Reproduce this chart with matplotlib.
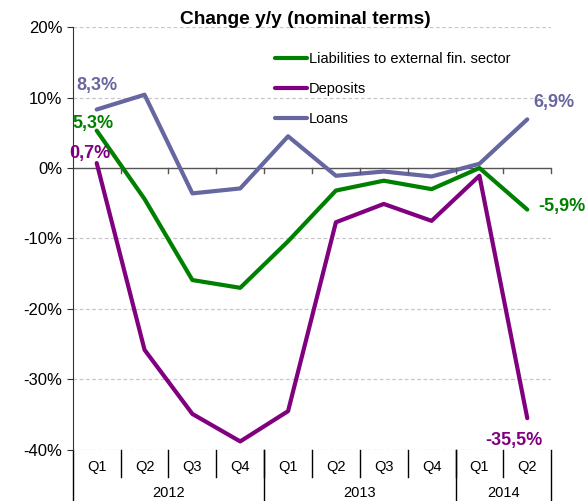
import numpy as np
import matplotlib
matplotlib.use("Agg")
import matplotlib.pyplot as plt
from matplotlib.ticker import FuncFormatter

plt.rcParams['font.family'] = ['Liberation Sans', 'DejaVu Sans']

quarters = ['Q1', 'Q2', 'Q3', 'Q4', 'Q1', 'Q2', 'Q3', 'Q4', 'Q1', 'Q2']
years = ['2012', '2013', '2014']
year_len = [4, 4, 2]

liabilities = [5.3, -4.4, -15.9, -17.0, -10.4, -3.2, -1.8, -3.0, 0.0, -5.9]
deposits = [0.7, -25.8, -34.9, -38.8, -34.5, -7.7, -5.1, -7.5, -1.1, -35.5]
loans = [8.3, 10.4, -3.6, -2.9, 4.5, -1.1, -0.5, -1.2, 0.6, 6.9]

green = '#008000'
purple = '#800080'
slate = '#6666a0'

fig = plt.figure(figsize=(5.87, 5.01), dpi=100)
ax = fig.add_axes([0.124, 0.102, 0.815, 0.844])

x = np.arange(len(quarters))
ax.plot(x, liabilities, color=green, lw=3, label='Liabilities to external fin. sector', solid_capstyle='round')
ax.plot(x, deposits, color=purple, lw=3, label='Deposits', solid_capstyle='round')
ax.plot(x, loans, color=slate, lw=3, label='Loans', solid_capstyle='round')

ax.set_xlim(-0.5, len(quarters) - 0.5)
ax.set_ylim(-40, 20)
ax.set_yticks(np.arange(-40, 21, 10))
ax.yaxis.set_major_formatter(FuncFormatter(lambda v, p: f'{v:.0f}%'))
ax.tick_params(axis='y', labelsize=12, direction='out', length=4, color='#333333')
for v in [-40, -30, -20, -10, 10, 20]:
    ax.axhline(v, color='#c8c8c8', lw=0.9, ls=(0, (3, 2)), zorder=0)
ax.axhline(0, color='#555555', lw=1.0, zorder=1)

for s in ['top', 'right', 'bottom']:
    ax.spines[s].set_visible(False)
ax.spines['left'].set_color('#333333')
ax.set_xticks([])

# small ticks on the zero line
for b in np.arange(0.5, len(quarters), 1):
    ax.plot([b, b], [0, -0.7], color='#555555', lw=1.0, clip_on=False)

# category axis below the plot
tr = ax.get_xaxis_transform()
for i, q in enumerate(quarters):
    ax.text(i, -0.04, q, transform=tr, ha='center', va='center', fontsize=10.5)
for b in np.arange(0.5, len(quarters) - 0.5, 1):
    ax.plot([b, b], [0, -0.065], color='black', lw=1.0, transform=tr, clip_on=False)
start = -0.5
edges = [start]
for y, n in zip(years, year_len):
    ax.text(start + n / 2, -0.103, y, transform=tr, ha='center', va='center', fontsize=10.5)
    start += n
    edges.append(start)
for e in edges:
    ax.plot([e, e], [0, -0.125], color='black', lw=1.0, transform=tr, clip_on=False)

# data labels
lab = dict(fontsize=13, fontweight='bold', ha='center', va='center', textcoords='offset points')
ax.annotate('8,3%', (0, loans[0]), xytext=(0, 17), color=slate, **lab)
ax.annotate('5,3%', (0, liabilities[0]), xytext=(-3, 5), color=green, **lab)
ax.annotate('0,7%', (0, deposits[0]), xytext=(-5, 7), color=purple, **lab)
ax.annotate('6,9%', (9, loans[9]), xytext=(19, 12), color=slate, **lab)
ax.annotate('-5,9%', (9, liabilities[9]), xytext=(25, 2), color=green, **lab)
ax.annotate('-35,5%', (9, deposits[9]), xytext=(-10, -16), color=purple, **lab)

ax.legend(loc='upper left', bbox_to_anchor=(0.411, 0.955), frameon=False, fontsize=10.5,
          handlelength=2.2, handletextpad=0.1, labelspacing=1.1, borderaxespad=0)

fig.text(0.52, 0.962, 'Change y/y (nominal terms)', ha='center', va='center',
         fontsize=13.8, fontweight='bold')

fig.savefig('out.png', dpi=100)
